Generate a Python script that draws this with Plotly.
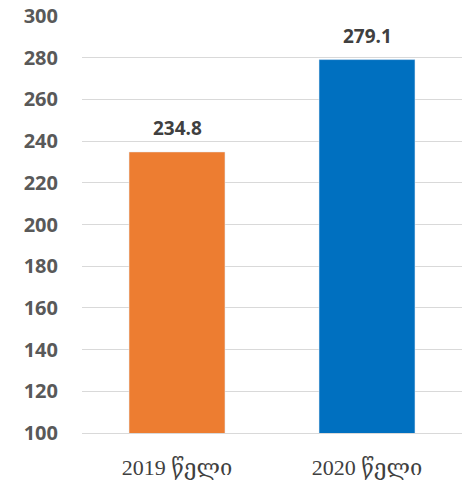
import plotly.graph_objects as go

categories = ["2019 წელი", "2020 წელი"]
values = [234.8, 279.1]
value_labels = ["234.8", "279.1"]
bar_colors = ["#ED7D31", "#0070C0"]
y_ticks = [100, 120, 140, 160, 180, 200, 220, 240, 260, 280, 300]

fig = go.Figure()
fig.add_trace(go.Bar(
    x=categories, y=values, marker_color=bar_colors, width=0.505,
    hoverinfo="skip",
))
for c, v, t in zip(categories, values, value_labels):
    fig.add_annotation(x=c, y=v, text=t, showarrow=False, yanchor="bottom", yshift=9,
                       font=dict(family="Open Sans", size=19, color="#404040", weight="bold"))

fig.update_layout(
    width=462, height=483,
    margin=dict(l=82, r=0, t=16, b=50, autoexpand=False),
    plot_bgcolor="white", paper_bgcolor="white",
    showlegend=False,
    bargap=0.495,
)
fig.update_yaxes(
    range=[100, 300], tickvals=y_ticks, showgrid=True, gridcolor="#D9D9D9", gridwidth=1.3,
    zeroline=False, showline=False, automargin=False,
    tickfont=dict(family="Open Sans", size=20, color="#595959", weight="bold"),
    ticklabelstandoff=23,
)
fig.update_xaxes(
    showline=True, linecolor="#D9D9D9", linewidth=1.3, automargin=False,
    tickfont=dict(family="Liberation Serif, DejaVu Serif", size=22, color="#404040"),
    ticklabelstandoff=14,
)
fig.write_html("out.html", config={"displayModeBar": False},
               post_script="document.body.style.margin='0';document.body.style.overflow='hidden';")
